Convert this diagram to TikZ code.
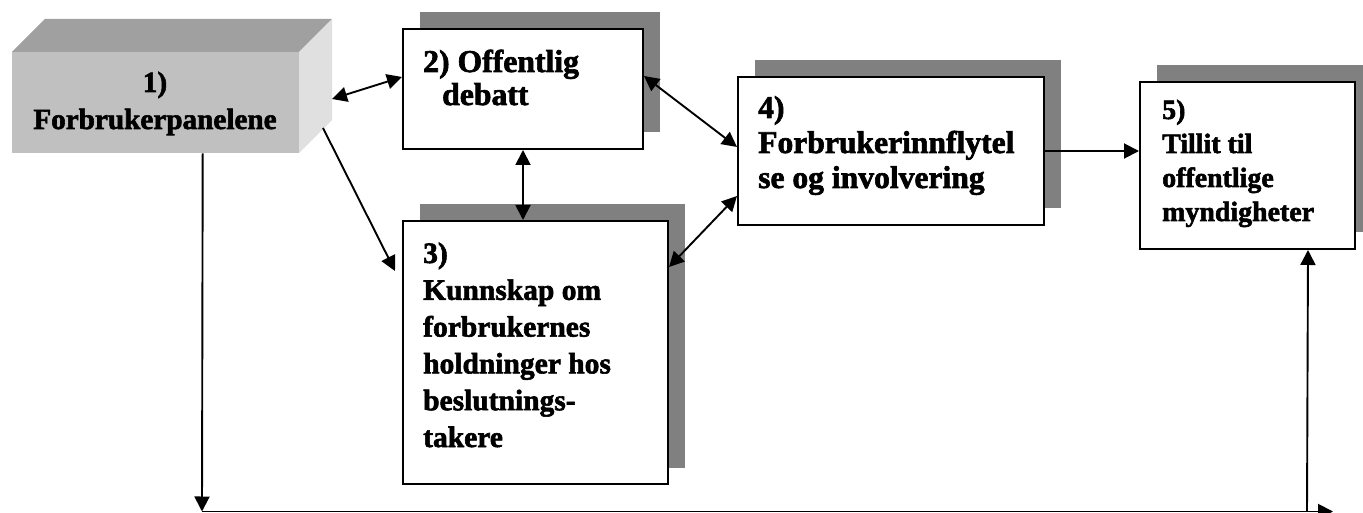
\documentclass[tikz,border=0pt]{standalone}
\usepackage{fontspec}
\setmainfont{Liberation Serif}[BoldFeatures={FakeBold=2}]
\usetikzlibrary{arrows.meta,shadows}
\definecolor{shadowgray}{HTML}{808080}
\definecolor{topgray}{HTML}{A0A0A0}
\definecolor{frontgray}{HTML}{C0C0C0}
\definecolor{sidegray}{HTML}{E0E0E0}
\begin{document}
\begin{tikzpicture}[x=1pt,y=-1pt,
  box/.style={draw=black, line width=2pt, fill=white, rectangle, inner sep=0pt, anchor=north west,
    general shadow={fill=shadowgray, shadow xshift=16.5pt, shadow yshift=16.5pt}},
  lbl/.style={inner sep=0pt, anchor=base west},
  conn/.style={line width=1.9pt, -{Triangle[length=15pt,width=15pt]}},
  biconn/.style={line width=1.9pt, {Triangle[length=15pt,width=15pt]}-{Triangle[length=15pt,width=15pt]}}]

\useasboundingbox (0,0) rectangle (1363,513);

% Box 1 (3D block)
\fill[topgray] (12,52) -- (299,52) -- (332,19) -- (45,19) -- cycle;
\fill[sidegray] (299,52) -- (332,19) -- (332,120) -- (299,153) -- cycle;
\node[fill=frontgray, inner sep=0pt, minimum width=287pt, minimum height=101pt, anchor=north west] (b1) at (12,52) {};
\node[inner sep=0pt, anchor=base, font=\bfseries\fontsize{29.2}{37}\selectfont] (t1) at (155,92)
  {\begin{tabular}[t]{@{}c@{}}1)\\Forbrukerpanelene\end{tabular}};

% Box 2
\node[box, minimum width=240pt, minimum height=120pt] (b2) at (402,28) {};
\node[lbl, font=\bfseries\fontsize{31.7}{33}\selectfont] (t2) at (423,72)
  {\begin{tabular}[t]{@{}l@{}}2) Offentlig\\\hspace*{19pt}debatt\end{tabular}};

% Box 3
\node[box, minimum width=265pt, minimum height=263pt] (b3) at (402,220) {};
\node[lbl, font=\bfseries\fontsize{29.5}{36.8}\selectfont] (t3) at (423,263)
  {\begin{tabular}[t]{@{}l@{}}3)\\Kunnskap om\\forbrukernes\\holdninger hos\\beslutnings-\\takere\end{tabular}};

% Box 4
\node[box, minimum width=306pt, minimum height=148pt] (b4) at (737,76) {};
\node[lbl, font=\bfseries\fontsize{31.6}{35}\selectfont] (t4) at (758,118)
  {\begin{tabular}[t]{@{}l@{}}4)\\Forbrukerinnflytel\\se og involvering\end{tabular}};

% Box 5
\node[box, minimum width=215pt, minimum height=167pt] (b5) at (1139,81) {};
\node[lbl, font=\bfseries\fontsize{27.9}{34}\selectfont] (t5) at (1162,119)
  {\begin{tabular}[t]{@{}l@{}}5)\\Tillit til\\offentlige\\myndigheter\end{tabular}};

% connector points on the 3D block and the bottom line
\coordinate (b1r) at (332,99);
\coordinate (b1s) at (323,128);
\coordinate (c1) at (202,511.5);
\coordinate (c2) at (1333,511.5);
\coordinate (c3) at (1307,511.5);

% Connectors
\draw[biconn] (b1r) -- ([yshift=-49pt]b2.north west);
\draw[conn] (b1s) -- ([xshift=-7pt,yshift=-51pt]b3.north west);
\draw[biconn] (b2.south) -- (b2.south |- b3.north);
\draw[biconn] ([yshift=-48pt]b2.north east) -- ([yshift=-71pt]b4.north west);
\draw[biconn] ([yshift=-47pt]b3.north east) -- ([yshift=-120pt]b4.north west);
\draw[conn] (b4.east) -- (b4.east -| b5.west);
\draw[conn] ([xshift=47pt]b1.south) -- (c1);
\draw[conn] (c1) -- (c2);
\draw[conn] (c3) -- ([xshift=60.5pt]b5.south);
\end{tikzpicture}
\end{document}
